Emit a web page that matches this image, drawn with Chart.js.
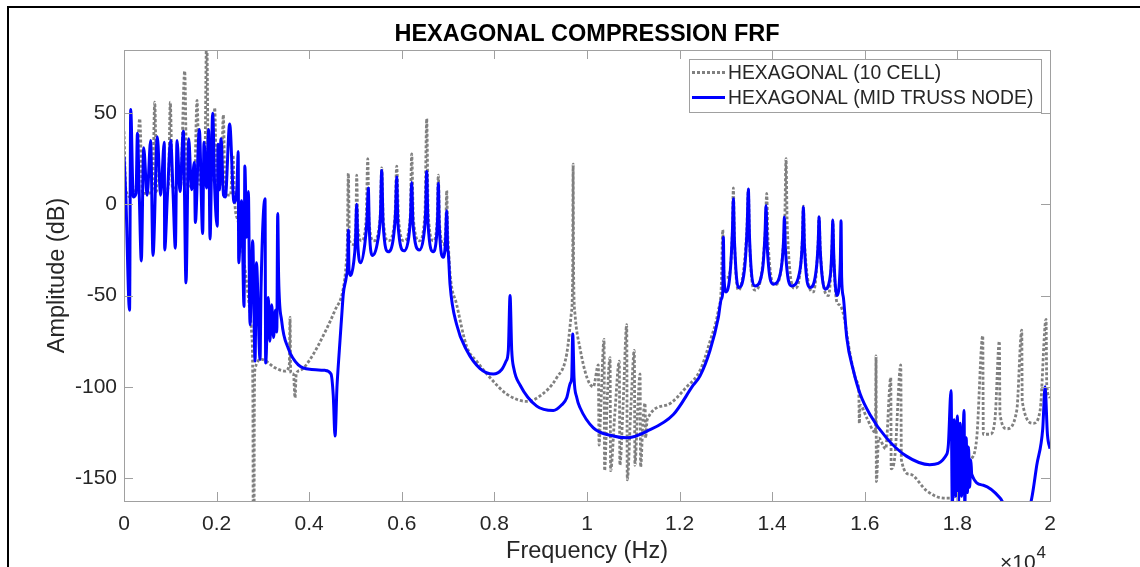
<!DOCTYPE html>
<html>
<head>
<meta charset="utf-8">
<title>Hexagonal compression FRF</title>
<script src="https://cdn.jsdelivr.net/npm/chart.js@4.4.1/dist/chart.umd.min.js"></script>
<style>
  html, body { margin: 0; padding: 0; background: #fff; }
  #wrap { width: 1140px; height: 567px; }
</style>
</head>
<body>
<div id="wrap"><canvas id="frfChart" width="1140" height="567"></canvas></div>
<script>
// values: frequency in Hz, amplitude in dB

// HEXAGONAL (10 CELL) - grey dotted
const freqCell = [0, 40, 150, 260, 339, 400, 520, 620, 663, 710, 860, 960, 1000, 1045, 1220, 1311, 1360, 1520, 1577, 1630,
  1740, 1786, 1825, 1925, 1959, 2000, 2100, 2145, 2185, 2300, 2354, 2390, 2470, 2560, 2686, 2758, 2785, 2794, 2805, 2815,
  2830, 2974, 3262, 3478, 3570, 3586, 3600, 3660, 3694, 3720, 3802, 4018, 4342, 4558, 4737, 4800, 4824, 4845, 4870, 4960,
  5010, 5026, 5050, 5130, 5230, 5265, 5290, 5390, 5530, 5566, 5600, 5709, 5850, 5890, 5930, 6048, 6180, 6214, 6250, 6378,
  6500, 6538, 6570, 6681, 6760, 6789, 6815, 6897, 6950, 6970, 6990, 7005, 7042, 7186, 7402, 7618, 7977, 8265, 8700, 8986,
  9346, 9562, 9660, 9690, 9700, 9712, 9740, 9850, 10000, 10137, 10245, 10260, 10300, 10368, 10380, 10440, 10498, 10510, 10600, 10698,
  10710, 10780, 10858, 10870, 10950, 11022, 11035, 11090, 11146, 11158, 11210, 11254, 11266, 11300, 11722, 12154, 12442, 12658, 12837, 12900,
  12932, 12960, 13050, 13140, 13161, 13185, 13269, 13450, 13485, 13510, 13630, 13850, 13881, 13910, 14060, 14270, 14298, 14325, 14490, 14650,
  14673, 14700, 14890, 14990, 15012, 15040, 15214, 15290, 15308, 15330, 15401, 15450, 15537, 15682, 15825, 15870, 15882, 15900, 16042, 16230,
  16243, 16250, 16300, 16450, 16561, 16570, 16650, 16777, 16790, 16978, 17338, 17697, 17878, 18058, 18274, 18418, 18548, 18560, 18706, 18814,
  18906, 18920, 19066, 19282, 19390, 19400, 19641, 19786, 19915, 19930, 20000];
const ampCell = [40, 8, 4, 9, 47, 6, 6, 9, 56, 7, 6, 10, 56, 9, 9, 73, 10, 10, 57, 11,
  12, 95, 12, 12, 53, 11, 11, 49, 6, 5, 27, 2, -10, -25, -51, -71, -110, -250, -250, -110,
  -90, -85, -89.6, -91.4, -88, -62, -92, -93, -106, -93, -91, -85, -70, -58, -46, -32, -20, 17, -20, -22,
  -8, 16, -12, -20, -8, 25, -8, -20, -8, 20, -8, -20, -8, 21, -8, -20, -8, 27.6, -8, -20,
  -5, 47, -5, -20, -10, 16, -10, -22, -12, 7.5, -15, -22, -38, -55, -78, -86, -97, -104, -108, -105,
  -95, -82, -60, -40, 22, -40, -60, -79, -95, -100, -88, -132, -110, -74, -146, -105, -84, -146, -115, -86,
  -143, -110, -66, -151, -110, -80, -143, -115, -93, -144, -118, -109, -128, -118, -110, -100, -91, -75, -58, -45,
  -14, -40, -40, -15, 9, -20, -47, -15, 8, -20, -47, -15, 6, -20, -44, -10, 25, -12, -46, -20,
  -1, -22, -48, -22, -7, -26, -50, -25, -9, -30, -54, -55, -60, -82, -97, -102, -120, -110, -117, -125,
  -83, -152, -128, -134, -95, -145, -138, -88, -140, -148, -157, -161, -161, -154, -141, -128, -72, -126, -126, -117,
  -75, -115, -123, -113, -69, -108, -120, -113, -63, -99, -106];

// HEXAGONAL (MID TRUSS NODE) - blue solid
const freqMid = [0, 40, 120, 145, 200, 260, 290, 330, 374, 425, 500, 576, 626, 720, 790, 871, 878, 940, 1008, 1060,
  1109, 1145, 1210, 1282, 1339, 1397, 1460, 1519, 1541, 1627, 1699, 1728, 1780, 1829, 1858, 1915, 1960, 2015, 2030, 2060,
  2095, 2150, 2189, 2282, 2376, 2440, 2466, 2478, 2540, 2592, 2610, 2650, 2686, 2722, 2780, 2830, 2860, 2938, 2960, 3046,
  3060, 3117, 3150, 3190, 3230, 3270, 3300, 3320, 3340, 3406, 3549, 3765, 4054, 4342, 4471, 4520, 4558, 4600, 4629, 4700,
  4737, 4800, 4835, 4845, 4860, 4897, 4960, 5000, 5026, 5050, 5113, 5200, 5250, 5277, 5300, 5372, 5480, 5540, 5566, 5595,
  5709, 5820, 5865, 5890, 5915, 6048, 6150, 6190, 6214, 6240, 6378, 6470, 6515, 6538, 6565, 6681, 6750, 6775, 6789, 6810,
  6897, 6945, 6970, 6990, 7005, 7042, 7186, 7402, 7690, 7977, 8158, 8250, 8301, 8338, 8374, 8420, 8554, 8914, 9273, 9450,
  9562, 9640, 9670, 9692, 9720, 9780, 9850, 10137, 10569, 10858, 11290, 11865, 12297, 12442, 12658, 12837, 12900, 12932, 12945, 12960,
  13003, 13090, 13140, 13161, 13185, 13269, 13400, 13460, 13485, 13510, 13630, 13790, 13845, 13867, 13890, 14025, 14190, 14245, 14263, 14285,
  14422, 14600, 14655, 14673, 14695, 14818, 14950, 14995, 15012, 15035, 15142, 15260, 15292, 15308, 15330, 15394, 15470, 15487, 15500, 15537,
  15610, 15753, 15900, 16107, 16467, 16899, 17402, 17770, 17805, 17863, 17890, 17930, 17960, 18000, 18020, 18060, 18090, 18144, 18160, 18190,
  18215, 18240, 18265, 18290, 18310, 18561, 18922, 19200, 19462, 19606, 19714, 19843, 19894, 19944, 20000];
const ampMid = [26, 4, -58, 52, 4, 6, 39, 5, -31, 31, 5, 35, -28, 37, 5, 34, -25, 6, 35, 6,
  -24, 35, 7, 40, -43, 36, 8, 23, -10, 41, -16, 34, 9, 41, -19, 50, 8, -12, 33, 8,
  36, 5, 4, 44, 1, 9, 29, -32, 2, -56, 21, -18, 7, -66, -20, -86, -32, -85, -46, 3,
  -87, -51, -75, -55, -73, -58, -70, -5, -40, -64, -79, -88, -90.5, -91, -93, -105, -127, -100, -88, -62,
  -49, -40, -30, -14, -36, -39, -32, -20, 0, -22, -32, -22, -8, 9, -15, -28, -20, -5, 18.5, -10,
  -26, -18, -4, 15, -10, -25.5, -18, -6, 12, -10, -25, -18, -4, 18, -10, -26, -18, -6, 11.5, -12,
  -29, -20, -3.5, -24, -27, -44, -66, -80, -90, -93, -90.5, -86, -80, -50, -80, -90, -99, -110.6, -113, -110,
  -106, -98, -95, -71, -95, -106, -111.5, -122.5, -127, -128, -124.4, -115.2, -99, -94, -80, -62, -52, -48, -18, -40,
  -48, -38, -15, 3, -20, -45.6, -36, -12, 8.4, -18, -44.7, -36, -16, -0.7, -22, -43.8, -36, -20, -7, -24,
  -44.7, -36, -18, -1.3, -22, -45.6, -36, -20, -6.8, -24, -46.5, -38, -22, -8.6, -28, -50, -32, -9, -40, -51,
  -73, -91, -104, -115, -128, -138, -142.7, -137, -131.7, -102, -165, -118, -160, -116, -165, -120, -160, -113, -165, -128,
  -158, -133, -155, -140, -148, -154, -161, -172, -172, -161, -143, -123, -100, -126, -134];

const seriesNames = ['HEXAGONAL (10 CELL)', 'HEXAGONAL (MID TRUSS NODE)'];
const chartTitle = 'HEXAGONAL COMPRESSION FRF';
const xTickValues = [0, 2000, 4000, 6000, 8000, 10000, 12000, 14000, 16000, 18000, 20000];
const yTickValues = [-150, -100, -50, 0, 50];
const xRange = [0, 20000];
const yRange = [-162.6, 84.6];

const FONT = '"Liberation Sans", Arial, Helvetica, sans-serif';
const TEXT = '#262626';
const AXIS = '#a0a0a0';
const CELL_COLOR = '#808080';
const MID_COLOR = '#0000ff';
const DOTS = [3, 2];

const toPoints = (xs, ys) => xs.map((f, i) => ({ x: f, y: ys[i] }));

// MATLAB-like framing: outer figure border, boxed axes with inward ticks,
// title over the axes, legend in the upper right, x10^4 exponent
const matlabFrame = {
  id: 'matlabFrame',
  beforeDraw(chart) {
    const ctx = chart.ctx;
    ctx.save();
    ctx.fillStyle = '#fff';
    ctx.fillRect(0, 0, chart.width, chart.height);
    ctx.strokeStyle = '#000';
    ctx.lineWidth = 2;
    ctx.strokeRect(8, 7, chart.width + 40, chart.height + 40);
    ctx.restore();
  },
  afterDatasetsDraw(chart) {
    const { ctx, chartArea: a, scales: { x, y } } = chart;
    ctx.save();

    // axes box + inward ticks
    ctx.strokeStyle = AXIS;
    ctx.lineWidth = 1;
    ctx.strokeRect(a.left + 0.5, a.top + 0.5, a.right - a.left, a.bottom - a.top);
    const tl = 9;
    ctx.beginPath();
    x.ticks.forEach(t => {
      const px = Math.round(x.getPixelForValue(t.value)) + 0.5;
      ctx.moveTo(px, a.bottom); ctx.lineTo(px, a.bottom - tl);
      ctx.moveTo(px, a.top); ctx.lineTo(px, a.top + tl);
    });
    y.ticks.forEach(t => {
      const py = Math.round(y.getPixelForValue(t.value)) + 0.5;
      ctx.moveTo(a.left, py); ctx.lineTo(a.left + tl, py);
      ctx.moveTo(a.right, py); ctx.lineTo(a.right - tl, py);
    });
    ctx.stroke();

    // title
    ctx.fillStyle = '#000';
    ctx.font = 'bold 23.5px ' + FONT;
    ctx.textAlign = 'center';
    ctx.textBaseline = 'middle';
    ctx.fillText(chartTitle, (a.left + a.right) / 2, a.top - 15);

    // legend
    const lgW = 352, lgH = 53;
    const lgRight = a.right - 9, lgTop = a.top + 9;
    const lgLeft = lgRight - lgW;
    ctx.fillStyle = '#fff';
    ctx.fillRect(lgLeft, lgTop, lgW, lgH);
    ctx.strokeStyle = AXIS;
    ctx.lineWidth = 1;
    ctx.strokeRect(lgLeft + 0.5, lgTop + 0.5, lgW, lgH);
    const rows = [
      { name: seriesNames[0], color: CELL_COLOR, dash: DOTS, width: 2.8 },
      { name: seriesNames[1], color: MID_COLOR, dash: [], width: 3 }
    ];
    ctx.font = '19.3px ' + FONT;
    ctx.textAlign = 'left';
    rows.forEach((r, i) => {
      const ry = lgTop + 13.5 + i * 25;
      ctx.beginPath();
      ctx.setLineDash(r.dash);
      ctx.strokeStyle = r.color;
      ctx.lineWidth = r.width;
      ctx.moveTo(lgLeft + 3, ry);
      ctx.lineTo(lgLeft + 36, ry);
      ctx.stroke();
      ctx.setLineDash([]);
      ctx.fillStyle = TEXT;
      ctx.fillText(r.name, lgLeft + 39, ry + 1);
    });

    // x10^4 exponent under the right end of the axis
    ctx.fillStyle = TEXT;
    ctx.textBaseline = 'alphabetic';
    ctx.font = '21px ' + FONT;
    const ex = a.right - 50;
    ctx.fillText('\u00d710', ex, chart.height + 2);
    const w = ctx.measureText('\u00d710').width;
    ctx.font = '17px ' + FONT;
    ctx.fillText('4', ex + w + 1, chart.height - 9);

    ctx.restore();
  }
};

new Chart(document.getElementById('frfChart'), {
  type: 'line',
  data: {
    datasets: [
      {
        label: seriesNames[0],
        data: toPoints(freqCell, ampCell),
        borderColor: CELL_COLOR,
        borderWidth: 2.8,
        borderDash: DOTS,
        pointRadius: 0,
        cubicInterpolationMode: 'monotone',
        clip: 0,
        order: 2
      },
      {
        label: seriesNames[1],
        data: toPoints(freqMid, ampMid),
        borderColor: MID_COLOR,
        borderWidth: 3,
        borderJoinStyle: 'round',
        pointRadius: 0,
        cubicInterpolationMode: 'monotone',
        clip: 0,
        order: 1
      }
    ]
  },
  options: {
    responsive: false,
    animation: false,
    devicePixelRatio: 1,
    layout: { padding: { left: 0, top: 50, right: 90, bottom: 0 } },
    plugins: {
      legend: { display: false },
      tooltip: { enabled: false },
      title: { display: false }
    },
    scales: {
      x: {
        type: 'linear',
        min: xRange[0],
        max: xRange[1],
        afterBuildTicks: s => { s.ticks = xTickValues.map(v => ({ value: v })); },
        afterFit: s => { s.height = 66; },
        grid: { display: false, drawTicks: false },
        border: { display: false },
        ticks: {
          autoSkip: false,
          maxRotation: 0,
          padding: 11,
          color: TEXT,
          font: { family: FONT, size: 21 },
          callback: v => String(Math.round(v / 1000) / 10)
        },
        title: {
          display: true,
          text: 'Frequency (Hz)',
          color: TEXT,
          font: { family: FONT, size: 23.5 },
          padding: { top: 0, bottom: 1 }
        }
      },
      y: {
        type: 'linear',
        min: yRange[0],
        max: yRange[1],
        afterBuildTicks: s => { s.ticks = yTickValues.map(v => ({ value: v })); },
        afterFit: s => { s.width = 124; },
        grid: { display: false, drawTicks: false },
        border: { display: false },
        ticks: {
          autoSkip: false,
          padding: 7,
          color: TEXT,
          font: { family: FONT, size: 21 }
        },
        title: {
          display: true,
          text: 'Amplitude (dB)',
          color: TEXT,
          font: { family: FONT, size: 23.5 },
          padding: { top: 43, bottom: 0 }
        }
      }
    }
  },
  plugins: [matlabFrame]
});
</script>
</body>
</html>
